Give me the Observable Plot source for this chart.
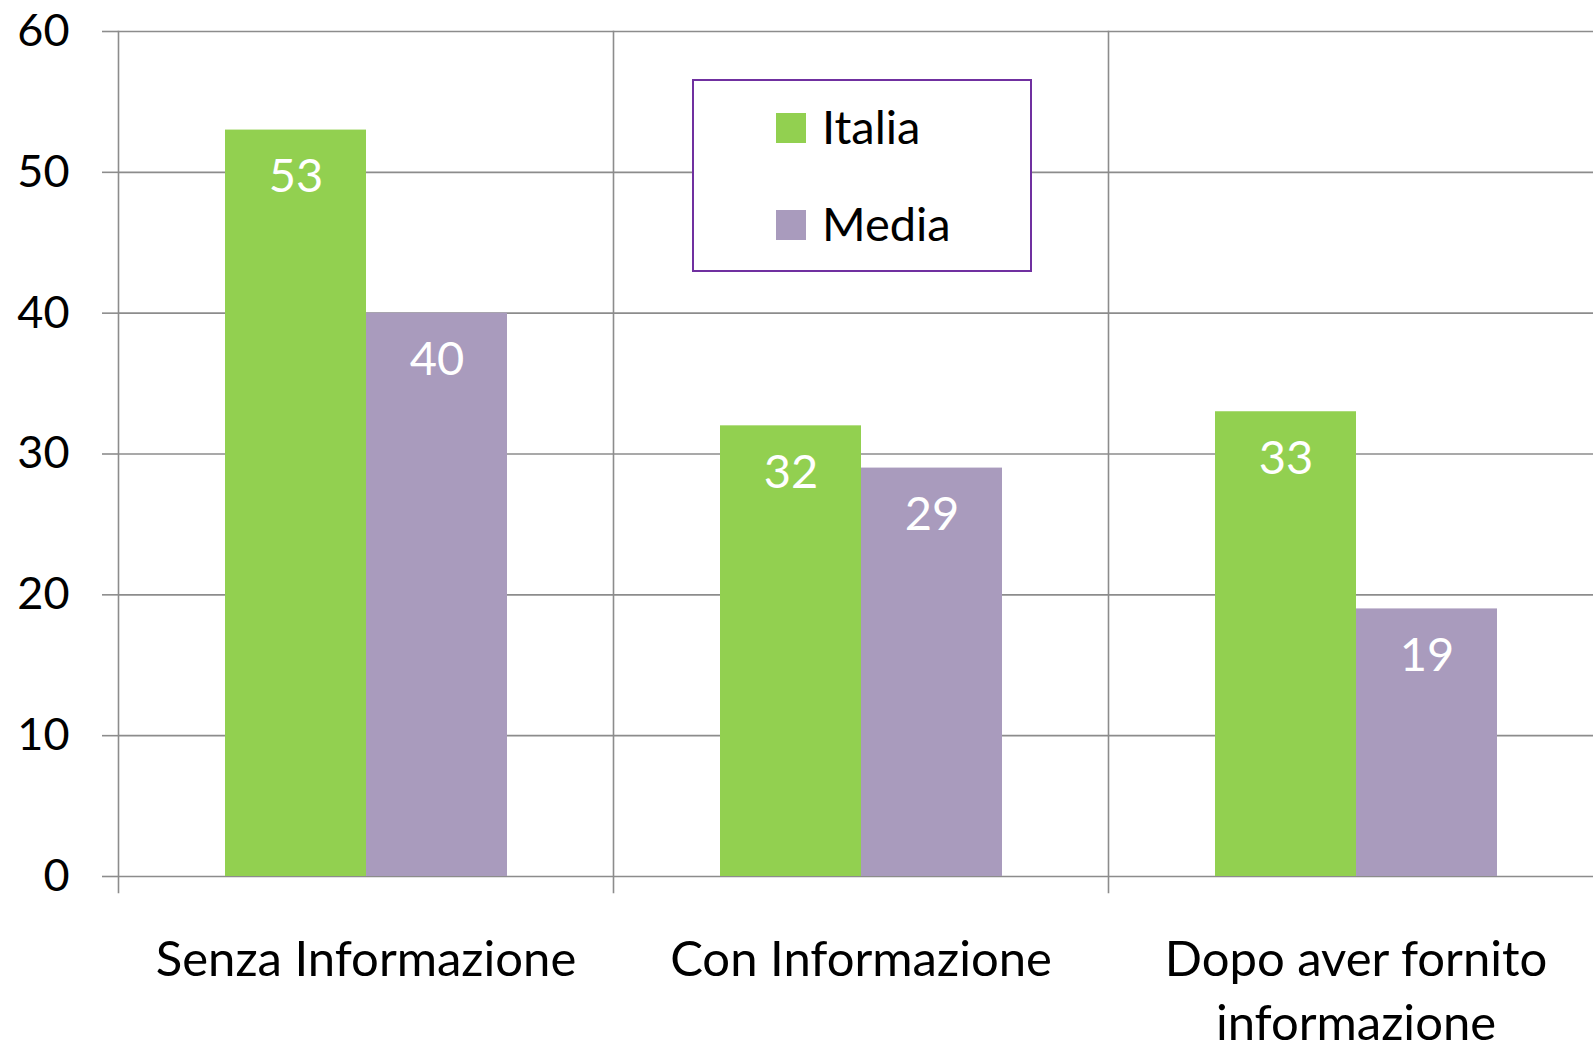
<!DOCTYPE html>
<html>
<head>
<meta charset="utf-8">
<script src="https://cdn.jsdelivr.net/npm/d3@7"></script>
<script src="https://cdn.jsdelivr.net/npm/@observablehq/plot@0.6"></script>
<style>
  html, body { margin: 0; padding: 0; background: #fff; overflow: hidden; }
  #wrap { position: relative; width: 1593px; height: 1045px; overflow: hidden; }
  #legend { position: absolute; left: 692px; top: 79px; width: 340px; height: 193px; box-sizing: border-box;
            border: 2px solid #7030a0; background: #fff; font-family: Lato, sans-serif; }
  .item { position: absolute; left: 82px; height: 34px; }
  .sw { position: absolute; left: 0; top: 0; width: 30px; height: 30px; }
  .lb { position: absolute; left: 46px; top: -15px; font-size: 47px; line-height: 56px; color: #000; white-space: nowrap; }
</style>
</head>
<body>
<div id="wrap"></div>
<script>
const categories = ["Senza Informazione", "Con Informazione", "Dopo aver fornito informazione"];
const categoryLabels = ["Senza Informazione", "Con Informazione", "Dopo aver fornito\ninformazione"];
const series = ["Italia", "Media"];
const italia = [53, 32, 33];
const media = [40, 29, 19];
const colors = ["#92d050", "#a99bbd"];
const yTicks = [0, 10, 20, 30, 40, 50, 60];

const data = [];
categories.forEach((c, i) => {
  data.push({cat: c, series: "Italia", value: italia[i]});
  data.push({cat: c, series: "Media", value: media[i]});
});
const labelOf = new Map(categories.map((c, i) => [c, categoryLabels[i]]));

const grid = "#8c8c8c";
const chart = Plot.plot({
  width: 1604,
  height: 1045,
  marginLeft: 117,
  marginRight: 0,
  marginTop: 31,
  marginBottom: 169,
  style: {fontFamily: "Lato, sans-serif", maxWidth: "none", overflow: "visible", background: "#fff"},
  fx: {domain: categories, paddingInner: 0, paddingOuter: 0},
  x: {domain: series, paddingInner: 0, paddingOuter: 0.75},
  y: {domain: [0, 60]},
  color: {domain: series, range: colors},
  marks: [
    Plot.gridY(yTicks, {stroke: grid, strokeOpacity: 1, strokeWidth: 1.6}),
    Plot.frame({anchor: "left", stroke: grid, strokeWidth: 1.6, insetBottom: -16}),
    Plot.barY(data, {fx: "cat", x: "series", y: "value", fill: "series"}),
    Plot.text(data, {fx: "cat", x: "series", y: "value", text: d => String(d.value), fill: "#fff",
      fontSize: 47, dy: 47, lineAnchor: "middle"}),
    Plot.axisY(yTicks, {tickSize: 16, tickPadding: 33, stroke: grid, strokeWidth: 1.6, fontSize: 45, fill: "#000", label: null}),
    Plot.axisX({ticks: [], label: null}),
    Plot.axisFx({anchor: "bottom", tickSize: 0, tickPadding: 55, fontSize: 49, fill: "#000", lineHeight: 1.29,
      tickFormat: d => labelOf.get(d), label: null})
  ]
});
const wrap = document.getElementById("wrap");
wrap.appendChild(chart);

const legend = document.createElement("div");
legend.id = "legend";
series.forEach((s, i) => {
  const item = document.createElement("div");
  item.className = "item";
  item.style.top = (i === 0 ? 32 : 129) + "px";
  const sw = document.createElement("div");
  sw.className = "sw";
  sw.style.background = colors[i];
  const lb = document.createElement("div");
  lb.className = "lb";
  lb.textContent = s;
  item.appendChild(sw);
  item.appendChild(lb);
  legend.appendChild(item);
});
wrap.appendChild(legend);
</script>
</body>
</html>
